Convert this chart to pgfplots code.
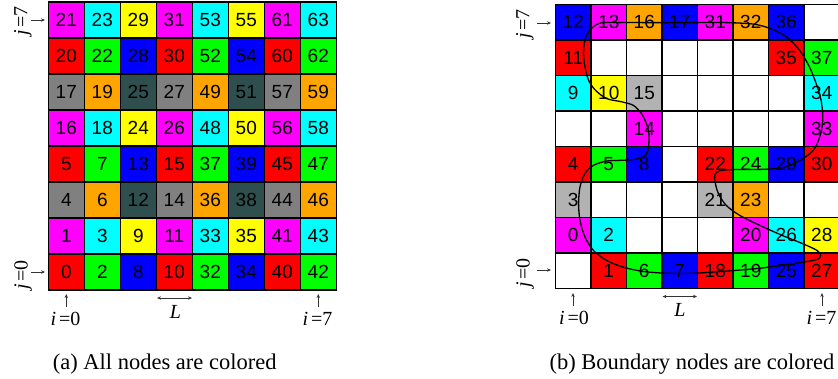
\documentclass[border=0pt]{standalone}
\usepackage{fontspec}
\setmainfont{Liberation Serif}
\setsansfont{Liberation Sans}
\usepackage{pgfplots}
\pgfplotsset{compat=1.18}
\usetikzlibrary{arrows.meta}
\definecolor{cR}{RGB}{255,0,0}
\definecolor{cG}{RGB}{0,255,0}
\definecolor{cB}{RGB}{0,0,255}
\definecolor{cM}{RGB}{255,0,255}
\definecolor{cC}{RGB}{0,255,255}
\definecolor{cY}{RGB}{255,255,0}
\definecolor{cO}{RGB}{255,165,0}
\definecolor{cGr}{RGB}{128,128,128}
\definecolor{cD}{RGB}{47,79,79}
\definecolor{cL}{RGB}{178,178,178}
\definecolor{cW}{RGB}{255,255,255}
\pgfplotsset{
  cellA/.style={only marks, mark=square*, mark size=18pt, mark options={draw=black, line width=1.2pt, fill=#1}},
  cellB/.style={only marks, mark=square*, mark size=17.75pt, mark options={draw=black, line width=1.8pt, fill=#1}},
  labs/.style={only marks, mark=none, point meta=explicit symbolic, nodes near coords,
    nodes near coords style={anchor=center, inner sep=0pt, text=black, font=\sffamily\fontsize{19}{21}\selectfont}},
}
\tikzset{arr/.style={-{Stealth[length=4pt,width=3.4pt]}, line width=0.7pt, black!80},
  darr/.style={{Stealth[length=4pt,width=3.4pt]}-{Stealth[length=4pt,width=3.4pt]}, line width=0.7pt, black!80},
  lab/.style={font=\fontsize{20}{22}\selectfont, inner sep=0pt}}
\begin{document}
\begin{tikzpicture}
% ---------------- (a) ----------------
\begin{axis}[at={(48.3pt,88pt)}, anchor=south west, x=36pt, y=36pt,
  xmin=-0.5, xmax=7.5, ymin=-0.5, ymax=7.5, hide axis, clip=false, clip marker paths=true]
\addplot[cellA=cR] coordinates {(0,0)(3,0)(6,0)(0,3)(3,3)(6,3)(0,6)(3,6)(6,6)};
\addplot[cellA=cG] coordinates {(1,0)(4,0)(7,0)(1,3)(4,3)(7,3)(1,6)(4,6)(7,6)};
\addplot[cellA=cB] coordinates {(2,0)(5,0)(2,3)(5,3)(2,6)(5,6)};
\addplot[cellA=cM] coordinates {(0,1)(3,1)(6,1)(0,4)(3,4)(6,4)(0,7)(3,7)(6,7)};
\addplot[cellA=cC] coordinates {(1,1)(4,1)(7,1)(1,4)(4,4)(7,4)(1,7)(4,7)(7,7)};
\addplot[cellA=cY] coordinates {(2,1)(5,1)(2,4)(5,4)(2,7)(5,7)};
\addplot[cellA=cGr] coordinates {(0,2)(3,2)(6,2)(0,5)(3,5)(6,5)};
\addplot[cellA=cO] coordinates {(1,2)(4,2)(7,2)(1,5)(4,5)(7,5)};
\addplot[cellA=cD] coordinates {(2,2)(5,2)(2,5)(5,5)};
\addplot[labs] coordinates {
 (0,0)[0] (1,0)[2] (2,0)[8] (3,0)[10] (4,0)[32] (5,0)[34] (6,0)[40] (7,0)[42]
 (0,1)[1] (1,1)[3] (2,1)[9] (3,1)[11] (4,1)[33] (5,1)[35] (6,1)[41] (7,1)[43]
 (0,2)[4] (1,2)[6] (2,2)[12] (3,2)[14] (4,2)[36] (5,2)[38] (6,2)[44] (7,2)[46]
 (0,3)[5] (1,3)[7] (2,3)[13] (3,3)[15] (4,3)[37] (5,3)[39] (6,3)[45] (7,3)[47]
 (0,4)[16] (1,4)[18] (2,4)[24] (3,4)[26] (4,4)[48] (5,4)[50] (6,4)[56] (7,4)[58]
 (0,5)[17] (1,5)[19] (2,5)[25] (3,5)[27] (4,5)[49] (5,5)[51] (6,5)[57] (7,5)[59]
 (0,6)[20] (1,6)[22] (2,6)[28] (3,6)[30] (4,6)[52] (5,6)[54] (6,6)[60] (7,6)[62]
 (0,7)[21] (1,7)[23] (2,7)[29] (3,7)[31] (4,7)[53] (5,7)[55] (6,7)[61] (7,7)[63]
};
\end{axis}
% ---------------- (b) ----------------
\begin{axis}[at={(555.5pt,89.5pt)}, anchor=south west, x=35.5pt, y=35.5pt,
  xmin=-0.5, xmax=7.5, ymin=-0.5, ymax=7.5, hide axis, clip=false, clip marker paths=true]
\addplot[cellB=cW] coordinates {(7,7)(1,6)(2,6)(3,6)(4,6)(5,6)(3,5)(4,5)(5,5)(6,5)
  (0,4)(1,4)(3,4)(4,4)(5,4)(6,4)(3,3)(1,2)(2,2)(3,2)(6,2)(7,2)(2,1)(3,1)(4,1)(0,0)};
\addplot[cellB=cB] coordinates {(0,7)(3,7)(6,7)(2,3)(6,3)(3,0)(6,0)};
\addplot[cellB=cM] coordinates {(1,7)(4,7)(2,4)(7,4)(0,1)(5,1)};
\addplot[cellB=cO] coordinates {(2,7)(5,7)(5,2)};
\addplot[cellB=cR] coordinates {(0,6)(6,6)(0,3)(4,3)(7,3)(1,0)(4,0)(7,0)};
\addplot[cellB=cG] coordinates {(7,6)(1,3)(5,3)(2,0)(5,0)};
\addplot[cellB=cC] coordinates {(0,5)(7,5)(1,1)(6,1)};
\addplot[cellB=cY] coordinates {(1,5)(7,1)};
\addplot[cellB=cL] coordinates {(2,5)(0,2)(4,2)};
\addplot[labs] coordinates {
 (1,0)[1] (2,0)[6] (3,0)[7] (4,0)[18] (5,0)[19] (6,0)[25] (7,0)[27]
 (0,1)[0] (1,1)[2] (5,1)[20] (6,1)[26] (7,1)[28]
 (0,2)[3] (4,2)[21] (5,2)[23]
 (0,3)[4] (1,3)[5] (2,3)[8] (4,3)[22] (5,3)[24] (6,3)[29] (7,3)[30]
 (2,4)[14] (7,4)[33]
 (0,5)[9] (1,5)[10] (2,5)[15] (7,5)[34]
 (0,6)[11] (6,6)[35] (7,6)[37]
 (0,7)[12] (1,7)[13] (2,7)[16] (3,7)[17] (4,7)[31] (5,7)[32] (6,7)[36]
};
\addplot[smooth, black, line width=1.3pt, mark=none] coordinates {
 (2.0,6.99) (3.4,6.99) (4.31,6.99) (5.06,6.95) (5.53,6.83) (6.0,6.59) (6.37,6.22)
 (6.65,5.75) (6.84,5.28) (6.98,4.81) (7.03,4.33) (6.98,3.9) (6.8,3.44) (6.47,3.16)
 (6.0,2.93) (5.44,2.86) (4.5,2.85) (4.13,2.82) (3.99,2.7) (4.0,2.48) (4.09,2.17)
 (4.31,1.84) (4.69,1.56) (5.25,1.28) (5.9,0.99) (6.47,0.76) (6.87,0.57) (6.97,0.43)
 (6.84,0.31) (6.19,0.2) (5.25,0.07) (4.31,-0.01) (3.4,-0.07) (2.63,-0.07) (1.97,-0.02)
 (1.41,0.10) (0.94,0.29) (0.57,0.57) (0.33,0.95) (0.19,1.42) (0.15,1.89) (0.19,2.36)
 (0.33,2.74) (0.57,2.97) (0.94,3.09) (1.32,3.11) (1.69,3.13) (1.97,3.21) (2.11,3.39)
 (2.13,3.87) (2.06,4.15) (1.92,4.43) (1.69,4.66) (1.36,4.76) (0.94,4.85) (0.62,5.09)
 (0.43,5.37) (0.33,5.75) (0.29,6.12) (0.33,6.5) (0.47,6.78) (0.76,6.98) (1.3,6.99) (2.0,6.99)
};
\end{axis}
% ---------------- annotations (a) ----------------
\draw[arr] (31pt,358pt) -- (45pt,358pt);
\draw[arr] (31pt,106pt) -- (45pt,106pt);
\node[lab, rotate=90] at (23pt,357pt) {\textit{j}\kern3pt=7};
\node[lab, rotate=90] at (23pt,103pt) {\textit{j}\kern3pt=0};
\draw[arr] (66.3pt,71pt) -- (66.3pt,84pt);
\draw[arr] (318.3pt,71pt) -- (318.3pt,84pt);
\node[lab, anchor=base] at (65.5pt,52.5pt) {\textit{i}\kern3pt=0};
\node[lab, anchor=base] at (317.5pt,52.5pt) {\textit{i}\kern3pt=7};
\draw[darr] (157pt,80pt) -- (192pt,80pt);
\node[lab, anchor=base] at (175.5pt,60pt) {\textit{L}};
\node[anchor=base, inner sep=0pt, font=\fontsize{22.5}{25}\selectfont] at (164.7pt,9pt) {(a) All nodes are colored};
% ---------------- annotations (b) ----------------
\draw[arr] (537pt,355pt) -- (551pt,355pt);
\draw[arr] (537pt,108pt) -- (551pt,108pt);
\node[lab, rotate=90] at (525pt,354pt) {\textit{j}\kern3pt=7};
\node[lab, rotate=90] at (525pt,105pt) {\textit{j}\kern3pt=0};
\draw[arr] (573pt,72pt) -- (573pt,85pt);
\draw[arr] (822pt,72pt) -- (822pt,85pt);
\node[lab, anchor=base] at (574pt,53.5pt) {\textit{i}\kern3pt=0};
\node[lab, anchor=base] at (821.5pt,53.5pt) {\textit{i}\kern3pt=7};
\draw[darr] (662.5pt,81.5pt) -- (697pt,81.5pt);
\node[lab, anchor=base] at (680pt,62pt) {\textit{L}};
\node[anchor=base, inner sep=0pt, font=\fontsize{22.5}{25}\selectfont] at (692pt,9pt) {(b) Boundary nodes are colored};
\pgfresetboundingbox
\path[use as bounding box] (0pt,0pt) rectangle (838pt,378pt);
\end{tikzpicture}
\end{document}
